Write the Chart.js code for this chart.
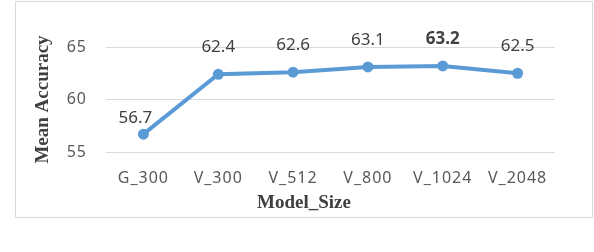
<!DOCTYPE html>
<html>
<head>
<meta charset="utf-8">
<script src="https://cdn.jsdelivr.net/npm/chart.js@4"></script>
<style>
  html, body { margin: 0; padding: 0; background: #fff; }
  #wrap { width: 594px; height: 252px; }
</style>
</head>
<body>
<div id="wrap"><canvas id="chart"></canvas></div>
<script>
const categories = ["G_300", "V_300", "V_512", "V_800", "V_1024", "V_2048"];
const accuracy = [56.7, 62.4, 62.6, 63.1, 63.2, 62.5];
const yTicks = [55, 60, 65];

const xTitle = "Model_Size";
const yTitle = "Mean Accuracy";
const lineColor = "#5B9BD5";

// frame, axis titles and point labels
const decorations = {
  id: "decorations",
  beforeDraw(chart) {
    chart.ctx.letterSpacing = "1px";
  },
  beforeDatasetsDraw(chart) {
    chart.ctx.letterSpacing = "0px";
  },
  afterDraw(chart) {
    const ctx = chart.ctx;
    const area = chart.chartArea;
    ctx.save();
    ctx.strokeStyle = "#D9D9D9";
    ctx.lineWidth = 1;
    ctx.strokeRect(15.5, 1.5, 577, 216);

    ctx.fillStyle = "#404040";
    ctx.font = "bold 19px 'Liberation Serif'";
    ctx.textAlign = "center";
    ctx.textBaseline = "middle";
    ctx.fillText(xTitle, 304, 203);

    ctx.translate(43, (area.top + area.bottom) / 2);
    ctx.rotate(-Math.PI / 2);
    ctx.fillText(yTitle, 0, 0);
    ctx.restore();

    const meta = chart.getDatasetMeta(0);
    const top = Math.max(...accuracy);
    ctx.save();
    ctx.fillStyle = "#404040";
    ctx.textAlign = "center";
    ctx.textBaseline = "middle";
    meta.data.forEach((pt, i) => {
      const v = accuracy[i];
      ctx.font = (v === top ? "bold " : "") + "17px 'Noto Sans'";
      let dx = 0, dy = -27;
      if (i === 0) { dx = -8; dy = -16; }
      ctx.fillText(v.toFixed(1), pt.x + dx, pt.y + dy);
    });
    ctx.restore();
  }
};

new Chart(document.getElementById("chart"), {
  type: "line",
  data: {
    labels: categories,
    datasets: [{
      data: accuracy,
      borderColor: lineColor,
      backgroundColor: lineColor,
      borderWidth: 4,
      pointRadius: 5.5,
      pointBorderWidth: 0,
      tension: 0,
      clip: false
    }]
  },
  options: {
    responsive: true,
    maintainAspectRatio: false,
    animation: false,
    layout: { padding: { left: 16, top: 47, right: 39, bottom: 34 } },
    plugins: { legend: { display: false }, tooltip: { enabled: false } },
    scales: {
      x: {
        offset: true,
        grid: { display: false, drawTicks: false },
        border: { display: false },
        ticks: { color: "#595959", font: { family: "Noto Sans", size: 16 }, padding: 17, maxRotation: 0, autoSkip: false },
        afterFit(s) { s.height = 66; }
      },
      y: {
        min: 55,
        max: 65,
        afterBuildTicks(s) { s.ticks = yTicks.map(v => ({ value: v })); },
        grid: { color: "#D9D9D9", lineWidth: 1, drawTicks: false },
        border: { display: false },
        ticks: { color: "#595959", font: { family: "Noto Sans", size: 16 }, padding: 19 },
        afterFit(s) { s.width = 90; }
      }
    }
  },
  plugins: [decorations]
});
</script>
</body>
</html>
